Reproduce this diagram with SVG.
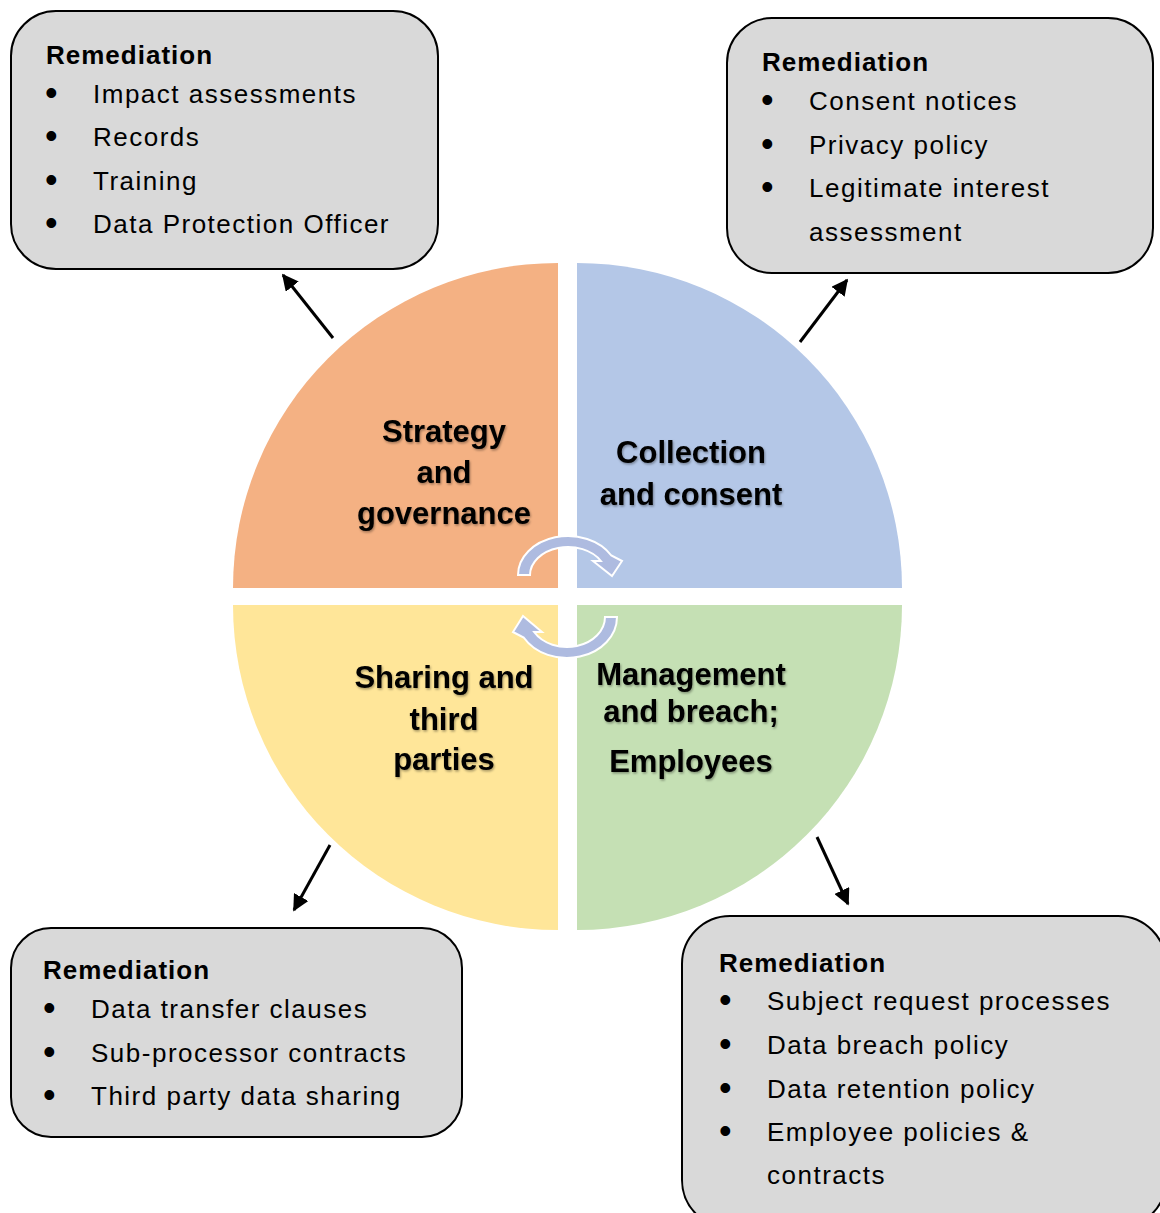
<svg xmlns="http://www.w3.org/2000/svg" width="1160" height="1213" viewBox="0 0 1160 1213">
  <style>
    .box { fill: #D9D9D9; stroke: #000; stroke-width: 2; }
    .head { font-family: "Liberation Sans", Arial, sans-serif; font-weight: bold; font-size: 26px; letter-spacing: 1px; fill: #000; }
    .item { font-family: "Liberation Sans", Arial, sans-serif; font-size: 26px; letter-spacing: 1.5px; fill: #000; }
    .dot { font-family: "Liberation Sans", Arial, sans-serif; font-size: 36px; fill: #000; }
    .quad { font-family: "Liberation Sans", Arial, sans-serif; font-weight: bold; font-size: 31px; fill: #000; text-anchor: middle; }
    .cycle { fill: #AEBBE0; stroke: #fff; stroke-width: 2; stroke-linejoin: miter; }
    .link { stroke: #000; stroke-width: 3; fill: none; marker-end: url(#tip); }
  </style>
  <defs>
    <marker id="tip" viewBox="0 0 10 10" refX="9" refY="5" markerWidth="5.5" markerHeight="5.5" orient="auto" markerUnits="strokeWidth">
      <path d="M0,0 L10,5 L0,10 Z" fill="#000"/>
    </marker>
    <filter id="soft" x="-10%" y="-20%" width="120%" height="140%">
      <feDropShadow dx="1" dy="1.5" stdDeviation="1" flood-color="#000" flood-opacity="0.35"/>
    </filter>
  </defs>

  <rect width="1160" height="1213" fill="#fff"/>

  <!-- four quarter segments of the cycle -->
  <g id="strategy">
    <path d="M558,588 L233,588 A325,325 0 0 1 558,263 Z" fill="#F4B183"/>
    <g class="quad" filter="url(#soft)">
      <text x="444" y="442">Strategy</text>
      <text x="444" y="483">and</text>
      <text x="444" y="524">governance</text>
    </g>
  </g>
  <g id="collection">
    <path d="M577,588 L577,263 A325,325 0 0 1 902,588 Z" fill="#B4C7E7"/>
    <g class="quad" filter="url(#soft)">
      <text x="691" y="463">Collection</text>
      <text x="691" y="505">and consent</text>
    </g>
  </g>
  <g id="management">
    <path d="M577,605 L902,605 A325,325 0 0 1 577,930 Z" fill="#C5E0B4"/>
    <g class="quad" filter="url(#soft)">
      <text x="691" y="685">Management</text>
      <text x="691" y="722">and breach;</text>
      <text x="691" y="772">Employees</text>
    </g>
  </g>
  <g id="sharing">
    <path d="M558,605 L558,930 A325,325 0 0 1 233,605 Z" fill="#FFE699"/>
    <g class="quad" filter="url(#soft)">
      <text x="444" y="688">Sharing and</text>
      <text x="444" y="730">third</text>
      <text x="444" y="770">parties</text>
    </g>
  </g>

  <!-- circular arrows in the middle -->
  <g id="cycle-arrows">
    <path class="cycle" d="M518,575 A50,39 0 0 1 611.3,555.5 L622,561 L612,576 L593,561 L600.9,561 A38,28 0 0 0 530,575 Z"/>
    <path class="cycle" d="M617,617 A50,41 0 0 1 523.7,637.5 L513,632 L523,616 L542,632 L534.1,632 A38,30 0 0 0 605,617 Z"/>
  </g>

  <!-- remediation boxes -->
  <g id="remediation-strategy">
    <rect class="box" x="11" y="11" width="427" height="258" rx="45"/>
    <text class="head" x="46" y="64">Remediation</text>
    <text class="dot" x="45" y="105">•</text><text class="item" x="93" y="103">Impact assessments</text>
    <text class="dot" x="45" y="148">•</text><text class="item" x="93" y="146">Records</text>
    <text class="dot" x="45" y="192">•</text><text class="item" x="93" y="190">Training</text>
    <text class="dot" x="45" y="235">•</text><text class="item" x="93" y="233">Data Protection Officer</text>
  </g>
  <g id="remediation-collection">
    <rect class="box" x="727" y="18" width="426" height="255" rx="45"/>
    <text class="head" x="762" y="71">Remediation</text>
    <text class="dot" x="761" y="112">•</text><text class="item" x="809" y="110">Consent notices</text>
    <text class="dot" x="761" y="156">•</text><text class="item" x="809" y="154">Privacy policy</text>
    <text class="dot" x="761" y="199">•</text><text class="item" x="809" y="197">Legitimate interest</text>
    <text class="item" x="809" y="241">assessment</text>
  </g>
  <g id="remediation-sharing">
    <rect class="box" x="11" y="928" width="451" height="209" rx="40"/>
    <text class="head" x="43" y="979">Remediation</text>
    <text class="dot" x="43" y="1020">•</text><text class="item" x="91" y="1018">Data transfer clauses</text>
    <text class="dot" x="43" y="1064">•</text><text class="item" x="91" y="1062">Sub-processor contracts</text>
    <text class="dot" x="43" y="1107">•</text><text class="item" x="91" y="1105">Third party data sharing</text>
  </g>
  <g id="remediation-management">
    <rect class="box" x="682" y="916" width="484" height="312" rx="48"/>
    <text class="head" x="719" y="972">Remediation</text>
    <text class="dot" x="719" y="1012">•</text><text class="item" x="767" y="1010">Subject request processes</text>
    <text class="dot" x="719" y="1056">•</text><text class="item" x="767" y="1054">Data breach policy</text>
    <text class="dot" x="719" y="1100">•</text><text class="item" x="767" y="1098">Data retention policy</text>
    <text class="dot" x="719" y="1143">•</text><text class="item" x="767" y="1141">Employee policies &amp;</text>
    <text class="item" x="767" y="1184">contracts</text>
  </g>

  <!-- pointers from each segment to its box -->
  <g id="connectors">
    <line class="link" x1="333" y1="338" x2="283" y2="275"/>
    <line class="link" x1="800" y1="342" x2="847" y2="280"/>
    <line class="link" x1="330" y1="845" x2="294" y2="910"/>
    <line class="link" x1="817" y1="837" x2="848" y2="904"/>
  </g>
</svg>
